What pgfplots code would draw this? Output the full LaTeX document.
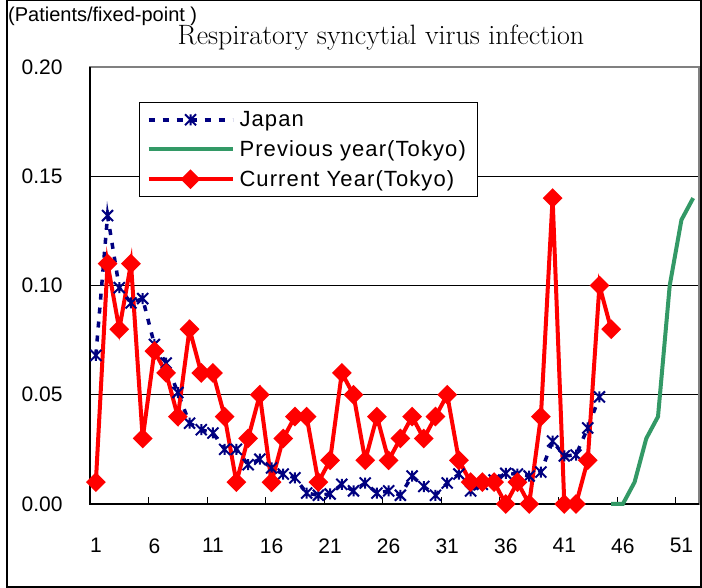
\documentclass[border=0pt]{standalone}
\usepackage{fontspec}
\newfontfamily\lib{Liberation Sans}
\newfontfamily\libwide{Liberation Sans}[LetterSpace=5]
\usepackage{pgfplots}
\pgfplotsset{compat=1.18}
\definecolor{navy}{RGB}{0,0,128}
\definecolor{sgreen}{RGB}{51,153,102}
\pgfdeclareplotmark{xstar}{%
  \pgfpathmoveto{\pgfqpoint{0pt}{\pgfplotmarksize}}%
  \pgfpathlineto{\pgfqpoint{0pt}{-\pgfplotmarksize}}%
  \pgfpathmoveto{\pgfqpoint{-\pgfplotmarksize}{\pgfplotmarksize}}%
  \pgfpathlineto{\pgfqpoint{\pgfplotmarksize}{-\pgfplotmarksize}}%
  \pgfpathmoveto{\pgfqpoint{-\pgfplotmarksize}{-\pgfplotmarksize}}%
  \pgfpathlineto{\pgfqpoint{\pgfplotmarksize}{\pgfplotmarksize}}%
  \pgfusepathqstroke}
\pgfplotstableread{
w v
1 0.068
2 0.132
3 0.099
4 0.092
5 0.094
6 0.073
7 0.0645
8 0.051
9 0.037
10 0.034
11 0.0325
12 0.025
13 0.025
14 0.018
15 0.0205
16 0.0165
17 0.0137
18 0.012
19 0.005
20 0.004
21 0.0046
22 0.009
23 0.006
24 0.0096
25 0.005
26 0.006
27 0.004
28 0.0128
29 0.008
30 0.004
31 0.0096
32 0.0137
33 0.006
34 0.009
35 0.011
36 0.014
37 0.0137
38 0.0128
39 0.0146
40 0.0288
41 0.022
42 0.0224
43 0.0348
44 0.049
}\japan
\pgfplotstableread{
w v
45 0
46 0
47 0.01
48 0.03
49 0.04
50 0.10
51 0.13
52 0.14
}\prev
\pgfplotstableread{
w v
1 0.01
2 0.11
3 0.08
4 0.11
5 0.03
6 0.07
7 0.06
8 0.04
9 0.08
10 0.06
11 0.06
12 0.04
13 0.01
14 0.03
15 0.05
16 0.01
17 0.03
18 0.04
19 0.04
20 0.01
21 0.02
22 0.06
23 0.05
24 0.02
25 0.04
26 0.02
27 0.03
28 0.04
29 0.03
30 0.04
31 0.05
32 0.02
33 0.01
34 0.01
35 0.01
36 0
37 0.01
38 0
39 0.04
40 0.14
41 0
42 0
43 0.02
44 0.10
45 0.08
}\curr
\begin{document}
\begin{tikzpicture}
\useasboundingbox (-90pt,-84pt) rectangle (612pt,504pt);
\draw[line width=1.2pt] (-83pt,-83pt) rectangle (611pt,503.4pt);
\node[anchor=west, inner sep=0pt, font=\lib\fontsize{20}{24}\selectfont] at (-82pt,488pt) {(Patients/fixed-point )};
\node[inner sep=0pt, font=\fontsize{28}{32}\selectfont] at (291pt,466pt) {Respiratory syncytial virus infection};
\begin{axis}[
  scale only axis, width=609pt, height=437pt,
  at={(0pt,0pt)}, anchor=south west,
  xmin=0.5, xmax=52.5, ymin=0, ymax=0.2,
  clip=false,
  axis line style={draw=gray, line width=2pt},
  tick align=inside,
  xtick={5.5,10.5,...,50.5}, xticklabels={},
  major tick length=7pt,
  x tick style={black, line width=1pt},
  extra x ticks={1,6,...,51},
  extra x tick labels={1,6,11,16,21,26,31,36,41,46,51},
  extra x tick style={major tick length=0pt},
  xticklabel style={font=\lib\fontsize{21}{25}\selectfont, yshift=-31pt},
  ytick={0,0.05,0.1,0.15,0.2},
  yticklabels={0.00,0.05,0.10,0.15,0.20},
  ytick style={draw=none},
  yticklabel style={font=\lib\fontsize{21}{25}\selectfont, xshift=-24pt},
  ymajorgrids, grid style={black, line width=0.8pt},
  xtick pos=bottom, ytick pos=left,
  legend cell align=left,
  legend style={at={(0.0805,0.92)}, anchor=north west, draw=black, line width=1pt,
    font=\libwide\fontsize{22}{26}\selectfont, inner xsep=7pt, inner ysep=7pt, row sep=8.5pt,
    nodes={inner xsep=5pt}},
  legend image code/.code={\draw[mark repeat=2,mark phase=2,#1] plot coordinates {(0pt,0pt) (42pt,0pt) (84pt,0pt)};},
]
\draw[black, line width=2pt] (rel axis cs:0,1) -- (rel axis cs:0,0) -- (rel axis cs:1,0);
\addplot[navy, line width=3.5pt, dash pattern=on 6pt off 8pt, mark=xstar, mark size=5.5pt,
  mark options={solid, line width=2pt}] table[x=w, y=v] {\japan};
\addlegendentry{Japan}
\addplot[sgreen, line width=4pt, mark=none] table[x=w, y=v] {\prev};
\addlegendentry{Previous year(Tokyo)}
\addplot[red, line width=4pt, mark=square*, mark size=5pt, mark options={rotate=45, solid}] table[x=w, y=v] {\curr};
\addlegendentry{Current Year(Tokyo)}
\end{axis}
\end{tikzpicture}
\end{document}
